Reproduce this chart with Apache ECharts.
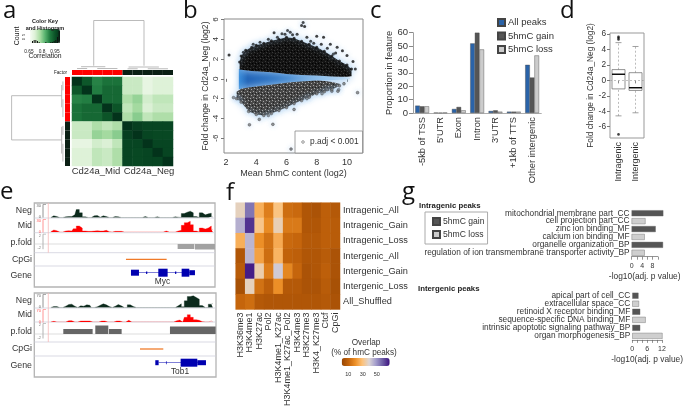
<!DOCTYPE html>
<html><head><meta charset="utf-8">
<script src="https://cdn.jsdelivr.net/npm/echarts@6/dist/echarts.min.js"></script>
<style>html,body{margin:0;padding:0;background:#fff}#c{width:685px;height:409px;filter:blur(.45px)}</style>
</head><body><div id="c"></div>
<script>
// ---------- panel a ----------
const sampleGroups = [1,1,1,1,1,0,0,0,0,0];
const corrMatrix = [
 [.995,.935,.875,.895,.895,.73,.73,.685,.705,.705],
 [.935,.995,.88,.91,.91,.73,.73,.685,.705,.705],
 [.875,.88,.995,.91,.91,.76,.78,.72,.74,.74],
 [.895,.91,.91,.995,.94,.74,.77,.71,.73,.73],
 [.895,.91,.91,.94,.995,.76,.79,.74,.76,.76],
 [.73,.73,.76,.74,.76,.995,.975,.965,.965,.965],
 [.73,.73,.78,.77,.79,.975,.995,.965,.96,.96],
 [.685,.685,.72,.71,.74,.965,.965,.995,.965,.965],
 [.705,.705,.74,.73,.76,.965,.96,.965,.995,.965],
 [.705,.705,.74,.73,.76,.965,.96,.965,.965,.995]];
const corrHist = [0,2,3,3,2,1,0,0,0,1,0,0,1,1,2,3,6,12];
const dendroTop = [[2.15,.99,7.13,.99],[2.15,.99,2.15,.086],[7.13,.99,7.13,.086],[.9,.066,3.3,.066],[.5,.03,1.5,.03],[2.5,.03,4.5,.03],[5.6,.06,8.6,.06],[5.5,.025,6.5,.025],[7.5,.025,9.5,.025]];
const dendroLeft = [[.97,2.1,.97,7.07],[.97,2.1,.043,2.1],[.97,7.07,.043,7.07],[.043,.9,.043,3.4],[.02,.5,.02,1.5],[.02,2.5,.02,4.5],[.043,5.6,.043,8.6],[.02,5.5,.02,6.5],[.02,7.5,.02,9.5]];
// ---------- panel b : envelopes of the dense clouds [x, low, high] ----------
const gainBand = [[2.9,.95,1.7],[3,.92,2.3],[3.3,.87,2.9],[3.7,.8,3.2],[4,.77,3.4],[4.5,.72,3.6],[5,.66,3.85],[5.5,.58,4.0],[6,.5,4.2],[6.5,.44,4.1],[7,.38,3.8],[7.5,.35,3.5],[8,.33,3.2],[8.5,.28,2.8],[9,.24,2.3],[9.5,.2,1.8],[10,.2,1.4],[10.3,.25,1.0]];
const lossBand = [[2.7,-1.3,-2],[3,-1.0,-2.35],[3.5,-.88,-3.3],[4,-.77,-3.6],[4.5,-.68,-3.7],[5,-.6,-3.5],[5.5,-.5,-3.2],[6,-.4,-2.9],[6.5,-.33,-2.5],[7,-.27,-2.2],[7.5,-.22,-1.85],[8,-.17,-1.5],[8.5,-.22,-1.3],[9,-.33,-1.1],[9.5,-.5,-.7]];
const neutralBand = [[2.85,-1.05,1.0],[4,-.8,.8],[6,-.42,.52],[8,-.2,.35],[9.5,-.1,.22],[10.2,-.05,.12]];
const gainOutliers = [[2.2,2.42],[7.1,5.7],[7,5.4],[7.2,5.3],[6.07,4.88],[6.25,4.7],[5.18,4.65],[8,4.3],[8.45,4.2],[8.9,3.5],[9.35,3.2],[9.7,2.85],[10,2.35],[10.4,1.75],[10.55,1],[3.15,2.7],[3.8,3.5],[4.25,3.7],[5.7,4.55],[6.7,4.5],[7.35,4.2],[8.3,3.5],[9.1,2.5],[5.9,4.5],[6.4,4.45],[5.4,4.2],[4.8,4.0],[7.6,3.8],[7.8,3.6],[8.7,3.1],[9.25,2.6]];
const lossOutliers = [[3.55,-4.65],[5.1,-4.6],[6.3,-7.1],[10.7,-1.4],[2.5,-1.9],[2.8,-2],[4.2,-4.1],[4.8,-3.7],[6.5,-3.1],[7.35,-2],[8.35,-1.5],[9,-1.25],[9.45,-1.1],[9.4,-1.25],[8.7,-1.1],[9.8,-.5]];
// ---------- panel c ----------
const featureNames = ['-5kb of TSS',"5'UTR",'Exon','Intron',"3'UTR",'+1kb of TTS','Other intergenic'];
const allPeaks = [5.5,.3,3,52,1.5,1,36];
const gainPeaks = [5,.2,4.5,60,2,1,26.5];
const lossPeaks = [5,.3,2,47.5,1,1,43];
// ---------- panel d ----------
const boxNames = ['Intragenic','Intergenic'];
const boxStats = [[0,-4.6,-1.1,.8,1.4,4.9],[1,-4.2,-1.3,-.95,1,4.4]];
const boxOutliers = [[0,5.3],[0,5.5],[0,5.65],[0,-7]];
// ---------- panel e ----------
const mycNeg = [0,5,3,0,0,2,3,3,8,24,14,2,0,0,5,6,1,5,3,0,0,3,2,0,0,0,0,0,0,0,0,3,0,0,0,2,0,0,0,0,0,2,1,0,12,16,19,14,3,0,14,8,11,13,2];
const mycMid = [1,6,4,0,0,3,4,3,10,18,12,3,2,2,3,4,3,3,5,1,0,2,2,2,0,0,0,0,0,0,0,0,0,0,0,0,0,0,3,0,0,0,3,5,20,28,32,22,3,0,12,9,12,18,8];
const tobNeg = [0,3,3,0,0,4,9,10,4,0,5,4,8,7,0,2,7,11,8,3,0,4,9,5,0,0,8,3,0,0,0,0,0,0,0,0,0,0,0,0,0,0,5,11,2,20,33,35,30,25,6,0,0,10,12];
const tobMid = [0,2,0,0,0,0,4,4,0,0,3,3,3,3,0,0,0,3,3,0,0,0,3,3,0,0,5,0,0,0,0,0,0,0,0,0,0,0,0,0,0,0,4,6,0,14,22,14,7,5,1,0,0,3,0];
const mycFold = [[533,583,-1,0],[585,645,-1.1,0]];
const tobFold = [[190,278,0,1],[286,325,0,1.7],[327,365,0,1],[510,647,0,1.5]];
const mycCpg = [[378,500,-.6,.6]];
const tobCpg = [[420,490,-.6,.6]];
const mycGene = [[417,585,-.3,.3],[393,417,-3,3],[475,503,-4,4],[545,568,-4,4],[568,585,-2.5,2.5],[438,442,-1.2,1.2],[525,529,-1.2,1.2]];
const tobGene = [[476,618,-.3,.3],[466,476,-2.5,2.5],[498,500,-1.5,1.5],[542,592,-4,4],[592,618,-2.5,2.5]];
// ---------- panel f ----------
const markNames = ['H3K36me3','H3K4me1','H3K27ac','Pol2','H3K4me1_K27ac','H3K4me1_K27ac_Pol2','H3K4me3','H3K27me3','H3K4_K27me3','Ctcf','CpGi'];
const setNames = ['Intragenic_All','Intragenic_Gain','Intragenic_Loss','Intergenic_All','Intergenic_Gain','Intergenic_Loss','All_Shuffled'];
const overlap = [
 [40,60,28,17,33,13,12,6,5,9,7],
 [50,70,34,20,39,16,16,6,6,9,8],
 [28,49,21,14,27,12,11,7,7,9,8],
 [6,49,25,13,29,10,9,6,6,8,5],
 [8,73,38,17,45,19,11,5,6,9,5],
 [4,40,14,9,21,7,7,5,5,8,4],
 [11,13,7,6,6,6,6,6,6,7,5]];
// ---------- panel g ----------
const goIntraNames = ['mitochondrial membrane part_CC','cell projection part_CC','zinc ion binding_MF','calcium ion binding_MF','organelle organization_BP','regulation of ion transmembrane transporter activity_BP'];
const goIntraValues = [12.1,5.3,9.2,5,12,5];
const goInterNames = ['apical part of cell_CC','extracellular space_CC','retinoid X receptor binding_MF','sequence-specific DNA binding_MF','intrinsic apoptotic signaling pathway_BP','organ morphogenesis_BP'];
const goInterValues = [2.5,2.7,3.2,5.4,3.2,12.2];

const FONT = '"Liberation Sans",Arial,sans-serif';
const grids=[],xAxes=[],yAxes=[],series=[],vms=[],gfx=[];
const hid = {show:false};
function addGrid(l,t,w,h,x,y,extra){
  grids.push(Object.assign({left:l,top:t,width:w,height:h,containLabel:false},extra||{}));
  xAxes.push(Object.assign({gridIndex:grids.length-1,axisLabel:{fontFamily:FONT},splitLine:hid},x));
  yAxes.push(Object.assign({gridIndex:grids.length-1,axisLabel:{fontFamily:FONT},splitLine:hid},y));
  return grids.length-1;
}
const hiddenVal=(min,max,inv)=>({type:'value',min,max,show:false,inverse:!!inv});
const hiddenCat=(n,inv)=>({type:'category',data:Array.from({length:n},(_,i)=>i),show:false,inverse:!!inv});
function txt(t,x,y,size,o){o=o||{};gfx.push({type:'text',x,y,rotation:o.rot||0,z:20,style:{text:t,fill:o.fill||'#222',font:(o.w||'normal')+' '+size+'px '+(o.font||FONT),align:o.align||'left',verticalAlign:o.v||'middle'}});}
function line(x1,y1,x2,y2,c,w){gfx.push({type:'line',z:3,shape:{x1,y1,x2,y2},style:{stroke:c,lineWidth:w||1}});}
function customRects(g,rows,color,z,colorFn){
  series.push({type:'custom',xAxisIndex:g,yAxisIndex:g,data:rows,z:z||4,silent:true,
   renderItem(p,api){const a=api.coord([api.value(0),api.value(2)]),b=api.coord([api.value(1),api.value(3)]);
    return {type:'rect',shape:{x:Math.min(a[0],b[0]),y:Math.min(a[1],b[1]),width:Math.abs(b[0]-a[0]),height:Math.abs(b[1]-a[1])},style:{fill:colorFn?colorFn(p.dataIndex):color}};}});
}
function customSegs(g,rows,color,w){
  series.push({type:'custom',xAxisIndex:g,yAxisIndex:g,data:rows,z:4,silent:true,
   renderItem(p,api){const a=api.coord([api.value(0),api.value(1)]),b=api.coord([api.value(2),api.value(3)]);
    return {type:'line',shape:{x1:a[0],y1:a[1],x2:b[0],y2:b[1]},style:{stroke:color,lineWidth:w||1}};}});
}
function band(g,rows,fill,extra,z){
  series.push({type:'custom',xAxisIndex:g,yAxisIndex:g,data:rows,z,silent:true,
   renderItem(p,api){ if(p.dataIndex!==0) return null;
    const up=rows.map(r=>api.coord([r[0],r[2]])), lo=rows.map(r=>api.coord([r[0],r[1]])).reverse();
    return {type:'polygon',shape:{points:up.concat(lo)},style:Object.assign({fill},extra||{})};}});
}
function speckle(base,dots,dark){
  const c=document.createElement('canvas');c.width=c.height=6;const x=c.getContext('2d');
  x.fillStyle=base;x.fillRect(0,0,6,6);x.fillStyle=dots;
  [[1,1],[4,2],[2,4],[5,5]].forEach(p=>x.fillRect(p[0],p[1],1,1));
  if(dark){x.fillStyle=dark;[[3,0],[0,3],[3,3]].forEach(p=>x.fillRect(p[0],p[1],1,1));}
  return {image:c,repeat:'repeat'};
}
const heat=(m)=>m.flatMap((r,i)=>r.map((v,j)=>[j,i,v]));
function coverage(gi,vals,color){
  series.push({type:'line',xAxisIndex:gi,yAxisIndex:gi,data:vals,step:'middle',symbol:'none',silent:true,z:4,lineStyle:{width:.3,color},areaStyle:{color,opacity:1}});
}

// ===== a =====
let g=addGrid(72,77,101,89,hiddenCat(10),hiddenCat(10,true));
series.push({type:'heatmap',xAxisIndex:g,yAxisIndex:g,data:heat(corrMatrix),silent:true});
const aIdx=series.length-1;
const greens=['#f7fcf5','#dcf1d6','#a9dca3','#58b36f','#1f7a3f','#0b5327','#02301a'];
vms.push({type:'continuous',seriesIndex:aIdx,dimension:2,min:.65,max:1,orient:'horizontal',left:30,top:29,itemWidth:14,itemHeight:30,padding:0,calculable:false,inRange:{color:greens}});
const facColor=i=>sampleGroups[i]?'#f00':'#0a1f14';
const facRows=sampleGroups.map((d,i)=>[i,i+1,0,1]);
g=addGrid(72,70,101,5,hiddenVal(0,10),hiddenVal(0,1));
customRects(g,facRows,null,4,facColor);
g=addGrid(65,77,5,89,hiddenVal(0,1),hiddenVal(0,10,true));
customRects(g,facRows.map(r=>[0,1,r[0],r[1]]),null,4,facColor);
g=addGrid(72,20,101,50,hiddenVal(0,10),hiddenVal(0,1));
customSegs(g,dendroTop,'#aaa',.8);
g=addGrid(10,77,54,89,hiddenVal(0,1,true),hiddenVal(0,10,true));
customSegs(g,dendroLeft,'#aaa',.8);
g=addGrid(30,29,30,14,hiddenCat(corrHist.length),hiddenVal(0,14));
series.push({type:'bar',xAxisIndex:g,yAxisIndex:g,data:corrHist,barWidth:1,z:10,silent:true,itemStyle:{color:'#111'}});
txt('Color Key',45,21,5.5,{w:'bold',align:'center'});
txt('and Histogram',45,28,5.5,{w:'bold',align:'center'});
txt('Count',17,36,7,{rot:Math.PI/2,align:'center'});
txt('0  5',24,37,4,{rot:Math.PI/2,align:'center'});
txt('0.65',29,52,4.8,{align:'center'});txt('0.8',42,52,4.8,{align:'center'});txt('0.95',55,52,4.8,{align:'center'});
txt('Correlation',45,56.5,6.8,{align:'center'});
txt('Factor',67,72.5,4.6,{align:'right'});
txt('Cd24a_Mid',96,171,9.5,{align:'center',fill:'#333'});
txt('Cd24a_Neg',149,171,9.5,{align:'center',fill:'#333'});

// ===== b =====
g=addGrid(224,19,139,134,
 {type:'value',min:1.867,max:11.06,axisLine:{show:false},axisTick:{show:true,length:3,lineStyle:{color:'#777'},customValues:[2,4,6,8,10]},axisLabel:{fontFamily:FONT,fontSize:9,color:'#333',margin:5,customValues:[2,4,6,8,10]},name:'Mean 5hmC content (log2)',nameLocation:'middle',nameGap:16,nameTextStyle:{fontFamily:FONT,fontSize:9,color:'#333'}},
 {type:'value',min:-7.5,max:6.05,axisLine:{show:false},axisTick:{show:true,length:3,lineStyle:{color:'#777'},customValues:[-6,-4,-2,0,2,4,6]},axisLabel:{fontFamily:FONT,fontSize:8,color:'#333',rotate:90,margin:4,customValues:[-6,-4,-2,0,2,4,6]},name:'Fold change in Cd24a_Neg (log2)',nameLocation:'middle',nameGap:14,nameTextStyle:{fontFamily:FONT,fontSize:8.6,color:'#333'}},
 {show:true,borderColor:'#888',borderWidth:1});
band(g,neutralBand,{type:'linear',x:0,y:0,x2:1,y2:0,colorStops:[{offset:0,color:'#3b8fdc'},{offset:.08,color:'#1f62b6'},{offset:.45,color:'#2a76c6'},{offset:.75,color:'#7db4e6'},{offset:1,color:'#d6e8f8'}]},{shadowBlur:6,shadowColor:'#8fc0ee'},3);
band(g,gainBand,speckle('#141414','#3a3a3a','#000'),{shadowBlur:9,shadowColor:'#a9cff2'},5);
band(g,lossBand.map(r=>[r[0],r[2],r[1]]),speckle('#484848','#a6a6a6','#1e1e1e'),{shadowBlur:9,shadowColor:'#a9cff2'},5);
series.push({type:'scatter',xAxisIndex:g,yAxisIndex:g,data:gainOutliers.concat(gainBand.map(r=>[r[0],r[2]])),symbolSize:3,z:6,silent:true,itemStyle:{color:'#111',shadowBlur:5,shadowColor:'#9cc6f0'}});
series.push({type:'scatter',xAxisIndex:g,yAxisIndex:g,data:lossOutliers.concat(lossBand.map(r=>[r[0],r[2]])),symbolSize:2.8,z:6,silent:true,itemStyle:{color:'#777',borderColor:'#333',borderWidth:.5,shadowBlur:5,shadowColor:'#9cc6f0'}});
gfx.push({type:'rect',z:8,shape:{x:295,y:131,width:67.5,height:22},style:{fill:'#fff',stroke:'#888',lineWidth:.8}});
gfx.push({type:'circle',z:9,shape:{cx:303,cy:142,r:1.3},style:{fill:'#fff',stroke:'#555',lineWidth:.6}});
txt('p.adj < 0.001',310,142,8.4,{fill:'#333'});

// ===== c =====
g=addGrid(413,32.7,128.3,80.3,
 {type:'category',data:featureNames,axisLine:{lineStyle:{color:'#999',width:.8}},axisTick:{show:false},axisLabel:{fontFamily:FONT,fontSize:9.3,color:'#333',rotate:90,margin:4,interval:0}},
 {type:'value',min:0,max:60,interval:10,axisLine:{show:true,lineStyle:{color:'#888',width:.8}},axisTick:{show:true,length:4,lineStyle:{color:'#888'}},axisLabel:{fontFamily:FONT,fontSize:9.5,color:'#333',margin:5},name:'Proportion in feature',nameLocation:'middle',nameGap:17,nameTextStyle:{fontFamily:FONT,fontSize:9.3,color:'#333'}});
[['All peaks',allPeaks,'#2a63a8'],['5hmC gain',gainPeaks,'#555555'],['5hmC loss',lossPeaks,'#cccccc']].forEach(a=>{
 series.push({type:'bar',name:a[0],xAxisIndex:g,yAxisIndex:g,data:a[1],barWidth:4.6,barGap:'0%',silent:true,itemStyle:{color:a[2],borderColor:'#444',borderWidth:.4}});
});

// ===== d =====
g=addGrid(610,33,34,105,
 {type:'category',data:boxNames,axisLine:{show:false},axisTick:{show:true,length:3,alignWithLabel:true,lineStyle:{color:'#888'}},axisLabel:{fontFamily:FONT,fontSize:9,color:'#333',rotate:90,margin:4,interval:0}},
 {type:'value',min:-7.47,max:6.15,axisLine:{show:false},axisTick:{show:true,length:3,lineStyle:{color:'#777'},customValues:[-6,-4,-2,0,2,4,6]},axisLabel:{fontFamily:FONT,fontSize:8.3,color:'#333',margin:4,customValues:[-6,-4,-2,0,2,4,6]},name:'Fold change in Cd24a_Neg (log2)',nameLocation:'middle',nameGap:15,nameTextStyle:{fontFamily:FONT,fontSize:8.3,color:'#333'}},
 {show:true,borderColor:'#999',borderWidth:1});
series.push({type:'custom',xAxisIndex:g,yAxisIndex:g,data:boxStats,z:4,silent:true,
 renderItem(p,api){
  const c=api.value(0),P=v=>api.coord([c,api.value(v)]);
  const x=P(1)[0],w=6.5,ch=[];
  const L=(x1,y1,x2,y2,st)=>ch.push({type:'line',shape:{x1,y1,x2,y2},style:Object.assign({stroke:'#888',lineWidth:.8},st||{})});
  const ymin=P(1)[1],q1=P(2)[1],m=P(3)[1],q3=P(4)[1],ymax=P(5)[1];
  L(x,ymin,x,q1,{lineDash:[2,2],stroke:'#aaa'});L(x,q3,x,ymax,{lineDash:[2,2],stroke:'#aaa'});
  L(x-3,ymin,x+3,ymin);L(x-3,ymax,x+3,ymax);
  ch.push({type:'rect',shape:{x:x-w,y:q3,width:2*w,height:q1-q3},style:{fill:'none',stroke:'#777',lineWidth:.8}});
  L(x-w,m,x+w,m,{stroke:'#000',lineWidth:1.4});
  return {type:'group',children:ch};
 }});
series.push({type:'scatter',xAxisIndex:g,yAxisIndex:g,data:boxOutliers,symbolSize:2.6,silent:true,z:5,itemStyle:{color:'#111'}});
series.push({type:'custom',xAxisIndex:g,yAxisIndex:g,data:[[0,0]],z:3,silent:true,renderItem(p,api){
  const a=api.coord([0,0]),r=p.coordSys;
  return {type:'line',shape:{x1:r.x,y1:a[1],x2:r.x+r.width,y2:a[1]},style:{stroke:'#aaa',lineWidth:.7,lineDash:[2,2]}};
}});

// ===== e =====
function locus(rows,neg,mid,fold,foldCol,foldZero,cpg,gene,label,labelX,labelY,scales,right){
  const [r0,r1,r2,r3,r4,r5,r6]=rows;
  const w=right-34.3;
  gfx.push({type:'rect',z:2,shape:{x:34.3,y:r0,width:w,height:r5-r0},style:{fill:'#fff',stroke:'#b4b4b4',lineWidth:1.3}});
  [r1,r2,r3,r4].forEach(y=>line(34.3,y,right,y,'#cfcfdc',.8));
  line(34.3,r6,right,r6,'#cfcfcf',.7);
  line(48.3,r0,48.3,r3,'#f7b9b9',.8);
  let gi=addGrid(49.3,r0+.5,165,14,hiddenCat(neg.length),hiddenVal(0,42));
  coverage(gi,neg,'#0b2a1c');
  gi=addGrid(49.3,r1,165,14,hiddenCat(mid.length),hiddenVal(0,42));
  coverage(gi,mid,'#f00');
  gi=addGrid(34.3,r2,w,r3-r2,hiddenVal(103,103+w*3),hiddenVal(foldZero[0],foldZero[1]));
  customRects(gi,fold,foldCol);
  gi=addGrid(34.3,r3,w,r4-r3,hiddenVal(103,103+w*3),hiddenVal(-6.6,6.6));
  customRects(gi,cpg,'#f07a28');
  gi=addGrid(34.3,r4,w,13.4,hiddenVal(103,103+w*3),hiddenVal(-6.7,6.7));
  customRects(gi,gene,'#0000b0');
  txt(label,labelX,labelY,8.4,{align:'center',fill:'#333'});
  const ly=[(r0+r1)/2,(r1+r2)/2,(r2+r3)/2,(r3+r4)/2,(r4+r5)/2-1];
  ['Neg','Mid','p.fold','CpGi','Gene'].forEach((t,i)=>txt(t,32,ly[i],8.8,{align:'right',fill:'#333'}));
  [[r0,'#888','#666'],[r1,'#f88','#f55'],[r2,'#aaa','#888']].forEach((s,i)=>{
    const hh=i==2?15:13,tp=s[0]+1.5;
    line(43,tp,43,tp+hh,s[1],.9);line(43,tp,46,tp,s[1],.7);
    txt(scales[i][0],41,tp+1.5,4,{align:'right',fill:s[2]});
    txt(scales[i][1],41,tp+hh-1,4,{align:'right',fill:s[2]});
  });
}
locus([203,218,232.7,252.7,266,287,244],mycNeg,mycMid,mycFold,'#a2a2a2',[-1.74,2.26],mycCpg,mycGene,'Myc',162.5,282,[['30','0'],['30','0'],['2','-2']],215);
locus([293,308,322,342,356,377,334],tobNeg,tobMid,tobFold,'#666666',[-1.6,2.4],tobCpg,tobGene,'Tob1',180,372,[['70','0'],['70','0'],['2','-2']],216);

// ===== f =====
g=addGrid(235.7,202.7,104.3,113.3,
 {type:'category',data:markNames,axisLine:{show:false},axisTick:{show:false},axisLabel:{fontFamily:FONT,fontSize:9,color:'#333',rotate:90,interval:0,margin:3}},
 {type:'category',data:setNames,inverse:true,position:'right',axisLine:{show:false},axisTick:{show:false},axisLabel:{fontFamily:FONT,fontSize:9.2,color:'#333',interval:0,margin:3}});
series.push({type:'heatmap',xAxisIndex:g,yAxisIndex:g,data:heat(overlap),silent:true});
vms.push({type:'continuous',seriesIndex:series.length-1,dimension:2,min:0,max:75,orient:'horizontal',left:341.7,top:358,itemWidth:8,itemHeight:48,padding:0,calculable:false,
 inRange:{color:['#964503','#c4640b','#ee9128','#fdc27a','#dcd6d6','#a29ccc','#6b5ba3','#3b0f80']}});
txt('Overlap',366,343,8.2,{align:'center',fill:'#333'});
txt('(% of hmC peaks)',364,353,8.2,{align:'center',fill:'#333'});
txt('10',348.3,374,5.5,{align:'center',fill:'#333'});txt('30',362.7,374,5.5,{align:'center',fill:'#333'});txt('50',376.7,374,5.5,{align:'center',fill:'#333'});

// ===== g =====
function goPanel(top,h,names,vals,max,x0,unit,labels){
  const gi=addGrid(x0,top,max*unit,h,
   {type:'value',min:0,max,interval:2,axisLine:{show:true,lineStyle:{color:'#666',width:.7}},axisTick:{show:true,length:3,lineStyle:{color:'#666',width:.7}},
    axisLabel:{fontFamily:FONT,fontSize:7,color:'#333',margin:6,formatter:v=>labels.includes(v)?String(v):''},
    name:'-log10(adj. p value)',nameLocation:'middle',nameGap:16,nameTextStyle:{fontFamily:FONT,fontSize:8.4,color:'#333'}},
   {type:'category',data:names,inverse:true,axisLine:{show:false},axisTick:{show:false},axisLabel:{fontFamily:FONT,fontSize:8.3,color:'#333',interval:0,margin:2}});
  series.push({type:'bar',xAxisIndex:gi,yAxisIndex:gi,data:vals.map((v,i)=>({value:v,itemStyle:{color:i%2?'#cfcfcf':'#555555'}})),barWidth:6,clip:false,silent:true,itemStyle:{borderColor:'#666',borderWidth:.4}});
}
goPanel(209.3,47.4,goIntraNames,goIntraValues,10,631.6,2.62,[0,4,8]);
goPanel(291.7,48.2,goInterNames,goInterValues,12,632.3,2.67,[0,6,12]);
txt('Intragenic peaks',419,206,7.8,{w:'bold'});
txt('Intergenic peaks',418,289,7.8,{w:'bold'});

// ===== letters =====
[['a',3,23],['b',183,23],['c',370,23],['d',560,23],['e',0,204],['f',226,205],['g',402,204]].forEach(a=>txt(a[0],a[1],a[2],24,{v:'bottom',fill:'#111',font:'"Open Sans",sans-serif'}));

const chart=echarts.init(document.getElementById('c'));
chart.setOption({animation:false,backgroundColor:'#fff',textStyle:{fontFamily:FONT},
 grid:grids,xAxis:xAxes,yAxis:yAxes,series,visualMap:vms,graphic:{elements:gfx},
 legend:[
  {orient:'vertical',left:497,top:17.5,padding:0,icon:'rect',itemWidth:7,itemHeight:7,itemGap:3.5,data:['All peaks','5hmC gain','5hmC loss'],selectedMode:false,textStyle:{fontFamily:FONT,fontSize:9.5,color:'#333',padding:[0,0,0,-2]}},
  {orient:'vertical',left:425,top:212,padding:[5,3,5,7],icon:'rect',itemWidth:7,itemHeight:7,itemGap:4,data:['5hmC gain','5hmC loss'],selectedMode:false,borderColor:'#aaa',borderWidth:1,textStyle:{fontFamily:FONT,fontSize:8.6,color:'#333',padding:[0,0,0,-2]}}
 ]});
</script></body></html>
